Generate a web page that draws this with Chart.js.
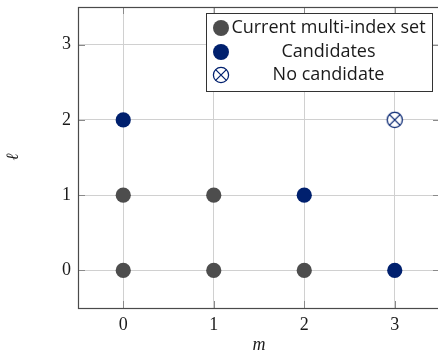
<!DOCTYPE html>
<html><head><meta charset="utf-8">
<script src="https://cdn.jsdelivr.net/npm/chart.js@4"></script>
<style>html,body{margin:0;padding:0;background:#fff;overflow:hidden;}
#wrap{position:relative;width:441px;height:352px;}
</style></head><body>
<div id="wrap"><canvas id="c"></canvas></div>
<script>
// ---- data ----
const xTicks = [0, 1, 2, 3];
const yTicks = [0, 1, 2, 3];
const currentM = [0, 1, 2, 0, 1];
const currentL = [0, 0, 0, 1, 1];
const candM = [3, 2, 0];
const candL = [0, 1, 2];
const noCandM = [3];
const noCandL = [2];
const seriesLabels = ['Current multi-index set', 'Candidates', 'No candidate'];
const xTitle = 'm';
const yTitle = 'ℓ';

const GRAY = '#4d4d4d', NAVY = '#00206e';
const R = 7.6;

function pts(xs, ys) { return xs.map((x, i) => ({x: x, y: ys[i]})); }

function crossCircle() {
  const s = 20, c = document.createElement('canvas');
  c.width = s; c.height = s;
  const g = c.getContext('2d');
  const m = s / 2, r = R;
  g.beginPath(); g.arc(m, m, r, 0, Math.PI * 2);
  g.fillStyle = '#fff'; g.fill();
  g.lineWidth = 1.25; g.strokeStyle = NAVY; g.stroke();
  const d = r * Math.SQRT1_2;
  g.beginPath();
  g.moveTo(m - d, m - d); g.lineTo(m + d, m + d);
  g.moveTo(m + d, m - d); g.lineTo(m - d, m + d);
  g.stroke();
  return c;
}
const xMark = crossCircle();

const frame = {
  id: 'frame',
  beforeDatasetsDraw(chart) {
    const {ctx, chartArea: a, scales} = chart;
    ctx.save();
    ctx.strokeStyle = '#8a8a8a'; ctx.lineWidth = 1;
    const tl = 7;
    ctx.beginPath();
    xTicks.forEach(v => {
      const x = Math.round(scales.x.getPixelForValue(v)) + 0.5;
      ctx.moveTo(x, a.bottom); ctx.lineTo(x, a.bottom - tl);
      ctx.moveTo(x, a.top); ctx.lineTo(x, a.top + tl);
    });
    yTicks.forEach(v => {
      const y = Math.round(scales.y.getPixelForValue(v)) + 0.5;
      ctx.moveTo(a.left, y); ctx.lineTo(a.left + tl, y);
      ctx.moveTo(a.right, y); ctx.lineTo(a.right - tl, y);
    });
    ctx.stroke();
    ctx.strokeStyle = '#4a4a4a'; ctx.lineWidth = 1.2;
    ctx.strokeRect(Math.round(a.left) + 0.5, Math.round(a.top) + 0.5,
                   Math.round(a.right - a.left), Math.round(a.bottom - a.top));
    // axis titles
    ctx.fillStyle = '#1a1a1a';
    ctx.font = 'italic 18px "Liberation Serif", "DejaVu Serif", serif';
    ctx.textAlign = 'center'; ctx.textBaseline = 'alphabetic';
    ctx.fillText(xTitle, (a.left + a.right) / 2, 350);
    ctx.translate(14, 157);
    ctx.rotate(-Math.PI / 2);
    ctx.font = 'italic 17px "DejaVu Serif", "Liberation Serif", serif';
    ctx.textBaseline = 'middle';
    ctx.fillText(yTitle, 0, 0);
    ctx.restore();
  },
  afterDraw(chart) {
    const ctx = chart.ctx;
    ctx.save();
    const bx = 206, by = 13, bw = 226, bh = 78;
    ctx.fillStyle = '#fff';
    ctx.fillRect(bx, by, bw, bh);
    ctx.strokeStyle = '#333'; ctx.lineWidth = 1;
    ctx.strokeRect(bx + 0.5, by + 0.5, bw, bh);
    const rows = [28, 52, 75];
    ctx.font = '18px "Open Sans", "Noto Sans", sans-serif';
    ctx.textAlign = 'center'; ctx.textBaseline = 'middle';
    chart.data.datasets.forEach((ds, i) => {
      const y = rows[i], mx = 221;
      if (i < 2) {
        ctx.beginPath(); ctx.arc(mx, y, 8, 0, Math.PI * 2);
        ctx.fillStyle = ds.backgroundColor; ctx.fill();
      } else {
        ctx.drawImage(xMark, mx - 10, y - 10);
      }
      ctx.fillStyle = '#1a1a1a';
      ctx.fillText(ds.label, 328.5, y);
    });
    ctx.restore();
  }
};

function fixTicks(arr) {
  return function (scale) { scale.ticks = arr.map(v => ({value: v})); };
}

new Chart(document.getElementById('c'), {
  type: 'scatter',
  data: {
    datasets: [
      {label: seriesLabels[0], data: pts(currentM, currentL), backgroundColor: GRAY,
       borderWidth: 0, pointRadius: R, pointHoverRadius: R},
      {label: seriesLabels[1], data: pts(candM, candL), backgroundColor: NAVY,
       borderWidth: 0, pointRadius: R, pointHoverRadius: R},
      {label: seriesLabels[2], data: pts(noCandM, noCandL), backgroundColor: NAVY,
       pointStyle: xMark, pointRadius: R, borderWidth: 0}
    ]
  },
  options: {
    responsive: true, maintainAspectRatio: false, animation: false,
    layout: {autoPadding: false, padding: {top: 7, right: 1, left: 0, bottom: 0}},
    plugins: {legend: {display: false}, tooltip: {enabled: false}},
    scales: {
      x: {
        type: 'linear', min: -0.5, max: 3.5,
        afterBuildTicks: fixTicks(xTicks),
        afterFit: s => { s.height = 44; s.paddingLeft = 0; s.paddingRight = 0; },
        grid: {color: '#d0d0d0', lineWidth: 1, drawTicks: false},
        border: {display: false},
        ticks: {padding: 6, color: '#1a1a1a',
                font: {family: '"Liberation Serif", "DejaVu Serif", serif', size: 18}}
      },
      y: {
        type: 'linear', min: -0.5, max: 3.5,
        afterBuildTicks: fixTicks(yTicks),
        afterFit: s => { s.width = 78; s.paddingTop = 0; s.paddingBottom = 0; },
        grid: {color: '#d0d0d0', lineWidth: 1, drawTicks: false},
        border: {display: false},
        ticks: {padding: 7, color: '#1a1a1a',
                font: {family: '"Liberation Serif", "DejaVu Serif", serif', size: 18}}
      }
    }
  },
  plugins: [frame]
});
</script>
</body></html>
